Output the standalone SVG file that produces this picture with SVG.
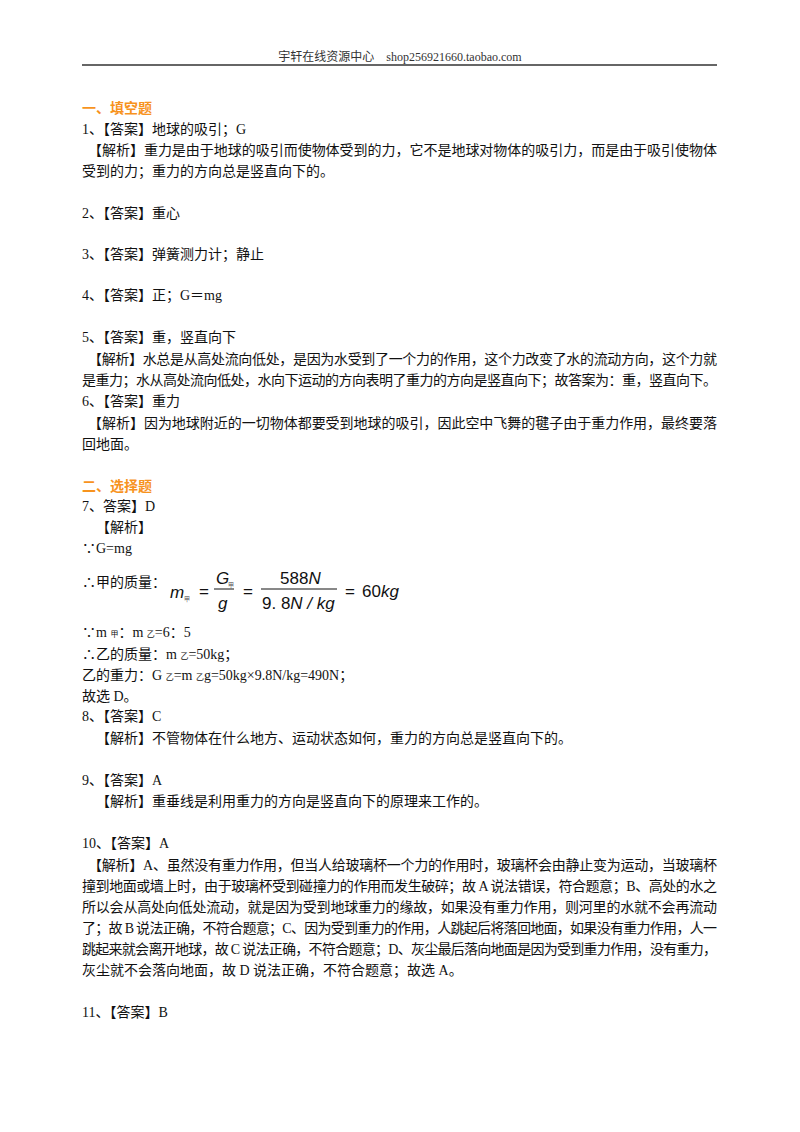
<svg xmlns="http://www.w3.org/2000/svg" width="800" height="1132" viewBox="0 0 800 1132">
<style>
text{font-family:"Liberation Serif","Noto Sans CJK SC",serif;font-size:14px;fill:#111}
.h{font-size:12px;fill:#333}
.sec{fill:#f7931e;font-weight:bold}
.f{font-family:"Liberation Sans","DejaVu Sans",sans-serif;font-style:italic;font-size:17px}
.fn{font-family:"Liberation Sans","DejaVu Sans",sans-serif;font-size:17px}
.sub{font-family:"Noto Sans CJK SC",sans-serif;font-size:6px;fill:#555}
</style>
<rect width="800" height="1132" fill="#fff"/>
<text class="h" x="400" y="61" text-anchor="middle">宇轩在线资源中心　shop256921660.taobao.com</text>
<line x1="82" y1="65" x2="717" y2="65" stroke="#333" stroke-width="1.5"/>
<text class="sec" x="82" y="113">一、填空题</text>
<text x="82" y="134">1、【答案】地球的吸引；G</text>
<text x="88" y="155" textLength="629" lengthAdjust="spacing">【解析】重力是由于地球的吸引而使物体受到的力，它不是地球对物体的吸引力，而是由于吸引使物体</text>
<text x="82" y="176">受到的力；重力的方向总是竖直向下的。</text>
<text x="82" y="218">2、【答案】重心</text>
<text x="82" y="259">3、【答案】弹簧测力计；静止</text>
<text x="82" y="300">4、【答案】正；G＝mg</text>
<text x="82" y="342">5、【答案】重，竖直向下</text>
<text x="88" y="364" textLength="629" lengthAdjust="spacing">【解析】水总是从高处流向低处，是因为水受到了一个力的作用，这个力改变了水的流动方向，这个力就</text>
<text x="82" y="385" textLength="635" lengthAdjust="spacing">是重力；水从高处流向低处，水向下运动的方向表明了重力的方向是竖直向下；故答案为：重，竖直向下。</text>
<text x="82" y="406">6、【答案】重力</text>
<text x="88" y="428" textLength="629" lengthAdjust="spacing">【解析】因为地球附近的一切物体都要受到地球的吸引，因此空中飞舞的毽子由于重力作用，最终要落</text>
<text x="82" y="449">回地面。</text>
<text class="sec" x="82" y="491">二、选择题</text>
<text x="82" y="511">7、答案】D</text>
<text x="96" y="532">【解析】</text>
<text x="82" y="553">∵G=mg</text>
<text x="82" y="587">∴甲的质量：</text>
<g id="formula">
<text class="f" x="170" y="598">m</text>
<text class="sub" x="184" y="601">甲</text>
<text class="fn" x="199" y="597">=</text>
<text class="f" x="216" y="584">G</text>
<text class="sub" x="228" y="587">甲</text>
<line x1="214" y1="589" x2="234" y2="589" stroke="#111"/>
<text class="f" x="218" y="609">g</text>
<text class="fn" x="243" y="597">=</text>
<text class="fn" x="280" y="584">588<tspan font-style="italic">N</tspan></text>
<line x1="261" y1="589" x2="337" y2="589" stroke="#111"/>
<text class="fn" x="262" y="609">9. 8<tspan font-style="italic">N /  kg</tspan></text>
<text class="fn" x="345" y="597">=</text>
<text class="fn" x="362" y="597">60<tspan font-style="italic">kg</tspan></text>
</g>
<text x="82" y="637">∵m <tspan font-size="8">甲</tspan>：m <tspan font-size="8">乙</tspan>=6：5</text>
<text x="82" y="659">∴乙的质量：m <tspan font-size="8">乙</tspan>=50kg；</text>
<text x="82" y="680">乙的重力：G <tspan font-size="8">乙</tspan>=m <tspan font-size="8">乙</tspan>g=50kg×9.8N/kg=490N；</text>
<text x="82" y="701">故选 D。</text>
<text x="82" y="721">8、【答案】C</text>
<text x="96" y="743">【解析】不管物体在什么地方、运动状态如何，重力的方向总是竖直向下的。</text>
<text x="82" y="785">9、【答案】A</text>
<text x="96" y="806">【解析】重垂线是利用重力的方向是竖直向下的原理来工作的。</text>
<text x="82" y="848">10、【答案】A</text>
<text x="88" y="870" textLength="629" lengthAdjust="spacing">【解析】A、虽然没有重力作用，但当人给玻璃杯一个力的作用时，玻璃杯会由静止变为运动，当玻璃杯</text>
<text x="82" y="891" textLength="635" lengthAdjust="spacing">撞到地面或墙上时，由于玻璃杯受到碰撞力的作用而发生破碎；故 A 说法错误，符合题意；B、高处的水之</text>
<text x="82" y="912" textLength="635" lengthAdjust="spacing">所以会从高处向低处流动，就是因为受到地球重力的缘故，如果没有重力作用，则河里的水就不会再流动</text>
<text x="82" y="933" textLength="635" lengthAdjust="spacing">了；故 B 说法正确，不符合题意；C、因为受到重力的作用，人跳起后将落回地面，如果没有重力作用，人一</text>
<text x="82" y="954" textLength="635" lengthAdjust="spacing">跳起来就会离开地球，故 C 说法正确，不符合题意；D、灰尘最后落向地面是因为受到重力作用，没有重力，</text>
<text x="82" y="975">灰尘就不会落向地面，故 D 说法正确，不符合题意；故选 A。</text>
<text x="82" y="1017">11、【答案】B</text>
</svg>
